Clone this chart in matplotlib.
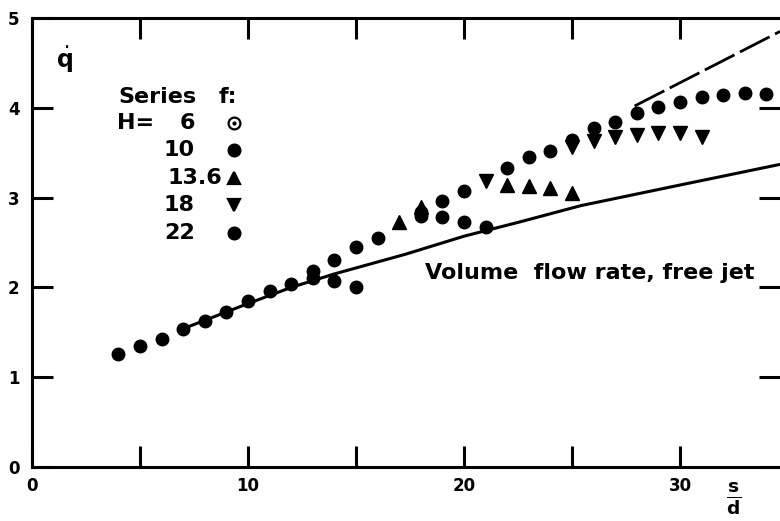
import matplotlib
matplotlib.use("Agg")
import matplotlib.pyplot as plt
from matplotlib.lines import Line2D

# ---- data ----
x_h10 = [4, 5, 6, 7, 8, 9, 10, 11, 12, 13, 14, 15, 16, 13, 14, 15, 18, 19, 20, 21]
y_h10 = [1.26, 1.35, 1.43, 1.54, 1.63, 1.73, 1.85, 1.96, 2.04, 2.18, 2.31, 2.45, 2.55,
         2.11, 2.07, 2.00, 2.79, 2.78, 2.73, 2.67]
x_h22 = [18, 19, 20, 22, 23, 24, 25, 26, 27, 28, 29, 30, 31, 32, 33, 34]
y_h22 = [2.84, 2.96, 3.07, 3.33, 3.45, 3.52, 3.64, 3.77, 3.84, 3.94, 4.01, 4.06, 4.12,
         4.14, 4.16, 4.15]
x_h136 = [17, 18, 22, 23, 24, 25]
y_h136 = [2.73, 2.90, 3.14, 3.13, 3.11, 3.05]
x_h18 = [21, 25, 26, 27, 28, 29, 30, 31]
y_h18 = [3.19, 3.56, 3.63, 3.68, 3.70, 3.72, 3.72, 3.68]

x_free = [7, 10, 12, 14, 17.3, 20, 22.6, 25.4, 30, 34.63]
y_free = [1.54, 1.82, 2.00, 2.15, 2.37, 2.57, 2.73, 2.91, 3.14, 3.37]

x_dash = [27.9, 34.63]
y_dash = [4.02, 4.85]

legend_h = ["6", "10", "13.6", "18", "22"]
xtick_pos = [0, 5, 10, 15, 20, 25, 30]
xtick_lab = ["0", "", "10", "", "20", "", "30"]
ytick_pos = [0, 1, 2, 3, 4, 5]
ytick_lab = ["0", "1", "2", "3", "4", "5"]

# ---- figure ----
W, H = 780, 521
fig = plt.figure(figsize=(W / 100, H / 100), dpi=100)
plt.rcParams['font.family'] = ['DejaVu Sans']
ax = fig.add_axes([32 / W, (H - 467) / H, (W - 32) / W, (467 - 18) / H])
ax.set_xlim(0, 34.63)
ax.set_ylim(0, 5)

ms_c = 9
ms_t = 9.5
ax.plot(x_h10, y_h10, 'o', color='black', ms=ms_c, mec='black')
ax.plot(x_h22, y_h22, 'o', color='black', ms=ms_c, mec='black')
ax.plot(x_h136, y_h136, '^', color='black', ms=ms_t, mec='black')
ax.plot(x_h18, y_h18, 'v', color='black', ms=ms_t, mec='black')

ax.plot(x_free, y_free, '-', color='black', lw=2.2, solid_capstyle='butt')
ax.plot(x_dash, y_dash, color='black', lw=2.0, linestyle=(0, (12, 2.2)))

for s in ['left', 'bottom', 'top']:
    ax.spines[s].set_linewidth(2.2)
ax.spines['right'].set_visible(False)

ax.set_xticks(xtick_pos)
ax.set_xticklabels(xtick_lab, fontsize=12, fontweight='bold')
ax.set_yticks(ytick_pos)
ax.set_yticklabels(ytick_lab, fontsize=12, fontweight='bold')
ax.tick_params(axis='x', direction='in', top=True, length=15, width=2.2, pad=7)
ax.tick_params(axis='y', direction='in', right=True, length=15, width=2.2, pad=9)

# annotation
ax.text(18.2, 2.16, "Volume  flow rate, free jet", fontsize=16, fontweight='bold',
        ha='left', va='center')

# axis labels
fig.text(64 / W, 1 - 60 / H, r'$\dot{\mathbf{q}}$', fontsize=17, ha='center', va='center')
fig.text(734 / W, 1 - 499 / H, r'$\frac{\mathbf{s}}{\mathbf{d}}$', fontsize=19,
         ha='center', va='center')

# legend block
fs = 16
fig.text(118 / W, 1 - 97 / H, "Series", fontsize=fs, fontweight='bold', va='center')
fig.text(219 / W, 1 - 97 / H, "f:", fontsize=fs, fontweight='bold', va='center')
fig.text(117 / W, 1 - 123 / H, "H=", fontsize=fs, fontweight='bold', va='center')
rows_y = [123, 150, 178, 205, 233]
markers = [('o', 'white'), ('o', 'black'), ('^', 'black'), ('v', 'black'), ('o', 'black')]
for lab, py, (mk, fc) in zip(legend_h, rows_y, markers):
    if lab == "13.6":
        fig.text(168 / W, 1 - py / H, lab, fontsize=fs, fontweight='bold', va='center', ha='left')
    else:
        fig.text(195 / W, 1 - py / H, lab, fontsize=fs, fontweight='bold', va='center', ha='right')
    fig.add_artist(Line2D([234 / W], [1 - py / H], marker=mk, color='black',
                          markerfacecolor=fc, markeredgecolor='black',
                          markersize=8.5 if mk == 'o' else 9, mew=1.6,
                          transform=fig.transFigure))
    if fc == 'white':
        fig.add_artist(Line2D([234 / W], [1 - py / H], marker='o', color='black',
                              markersize=2, transform=fig.transFigure))

fig.savefig("out.png", dpi=100, facecolor='white')
